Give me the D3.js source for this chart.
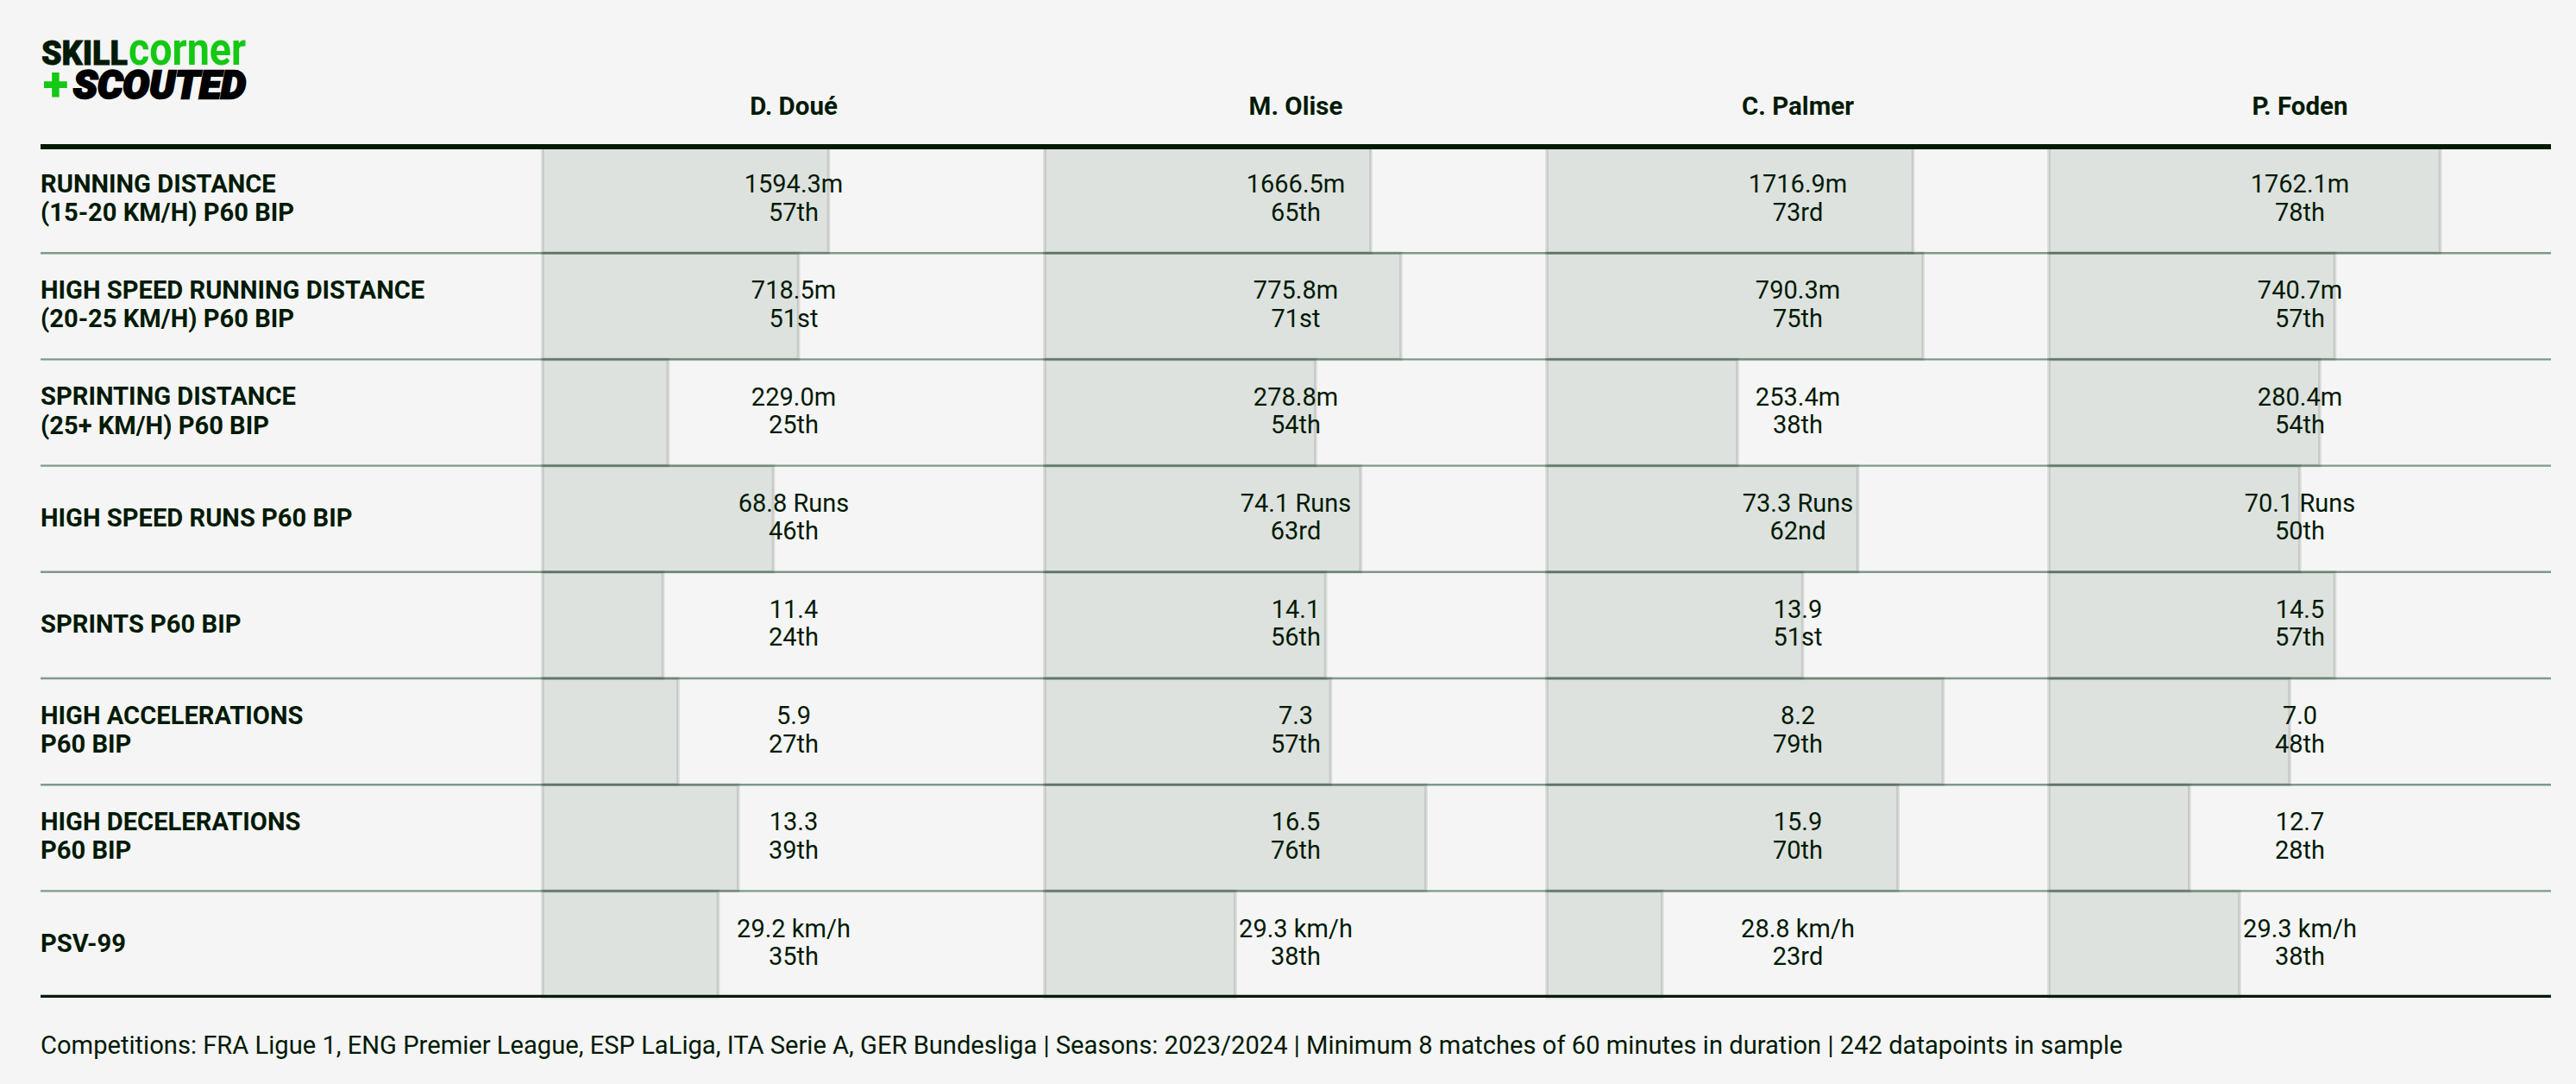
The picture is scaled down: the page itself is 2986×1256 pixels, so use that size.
<!doctype html>
<html>
  <head>
    <meta charset="utf-8">
    <title>SkillCorner physical comparison</title>
    <script src="https://cdnjs.cloudflare.com/ajax/libs/d3/7.8.5/d3.min.js"></script>
    <style>
      html, body { margin: 0; background: #f5f5f5; }
      svg { display: block; font-family: Roboto, sans-serif; }
      text { fill: #021a05; }
    </style>
  </head>

  <body>
    <div id="chart"></div>

    <script>
      // Data
      const players = ['D. Doué', 'M. Olise', 'C. Palmer', 'P. Foden'];
      const metricLabels = [
        ['RUNNING DISTANCE', '(15-20 KM/H) P60 BIP'],
        ['HIGH SPEED RUNNING DISTANCE', '(20-25 KM/H) P60 BIP'],
        ['SPRINTING DISTANCE', '(25+ KM/H) P60 BIP'],
        ['HIGH SPEED RUNS P60 BIP'],
        ['SPRINTS P60 BIP'],
        ['HIGH ACCELERATIONS', 'P60 BIP'],
        ['HIGH DECELERATIONS', 'P60 BIP'],
        ['PSV-99']
      ];
      const units = ['m', 'm', 'm', ' Runs', '', '', '', ' km/h'];

      const doueValues = ['1594.3', '718.5', '229.0', '68.8', '11.4', '5.9', '13.3', '29.2'];
      const oliseValues = ['1666.5', '775.8', '278.8', '74.1', '14.1', '7.3', '16.5', '29.3'];
      const palmerValues = ['1716.9', '790.3', '253.4', '73.3', '13.9', '8.2', '15.9', '28.8'];
      const fodenValues = ['1762.1', '740.7', '280.4', '70.1', '14.5', '7.0', '12.7', '29.3'];

      const douePct = [57, 51, 25, 46, 24, 27, 39, 35];
      const olisePct = [65, 71, 54, 63, 56, 57, 76, 38];
      const palmerPct = [73, 75, 38, 62, 51, 79, 70, 23];
      const fodenPct = [78, 57, 54, 50, 57, 48, 28, 38];

      const footnote = 'Competitions: FRA Ligue 1, ENG Premier League, ESP LaLiga, ITA Serie A, GER Bundesliga | Seasons: 2023/2024 | Minimum 8 matches of 60 minutes in duration | 242 datapoints in sample';

      const allValues = [doueValues, oliseValues, palmerValues, fodenValues];
      const allPct = [douePct, olisePct, palmerPct, fodenPct];

      const width = 2986, height = 1256;
      const marginLeft = 47, marginRight = 2957, tableLeft = 629, tableTop = 170, tableBottom = 1155.6;
      const dark = '#021a05';
      const bodySize = 29.15, valueSize = 29;

      // Ordinal suffix for the percentile line
      function ordinal(n) {
        const s = n % 100 >= 11 && n % 100 <= 13 ? 'th' : ({1: 'st', 2: 'nd', 3: 'rd'}[n % 10] || 'th');
        return n + s;
      }

      const x = d3.scaleBand().domain(players).range([tableLeft, marginRight]);
      const y = d3.scaleBand().domain(d3.range(metricLabels.length)).range([tableTop, tableBottom]);
      const barWidth = d3.scaleLinear().domain([0, 100]).range([0, x.bandwidth() - 0.5]);

      const svg = d3.select('#chart')
        .append('svg')
        .attr('width', width)
        .attr('height', height);

      // Row rules sit under the bars so the bars darken them
      svg.selectAll('line.rule')
        .data(d3.range(1, metricLabels.length))
        .join('line')
        .attr('class', 'rule')
        .attr('x1', marginLeft)
        .attr('x2', marginRight)
        .attr('y1', d => y(d))
        .attr('y2', d => y(d))
        .attr('stroke', '#7f9a87')
        .attr('stroke-width', 2.4);

      // Bars
      const cells = players.flatMap((p, pi) =>
        metricLabels.map((m, mi) => ({
          player: p,
          row: mi,
          pct: allPct[pi][mi],
          label: allValues[pi][mi] + units[mi]
        })));

      svg.selectAll('rect.bar')
        .data(cells)
        .join('rect')
        .attr('class', 'bar')
        .attr('x', d => x(d.player))
        .attr('y', d => y(d.row))
        .attr('width', d => barWidth(d.pct))
        .attr('height', y.bandwidth())
        .attr('fill', '#05370f')
        .attr('fill-opacity', 0.1)
        .attr('stroke', '#1c2a20')
        .attr('stroke-opacity', 0.13)
        .attr('stroke-width', 3.6);

      // Heavy top and bottom rules
      svg.append('line')
        .attr('x1', marginLeft).attr('x2', marginRight)
        .attr('y1', tableTop).attr('y2', tableTop)
        .attr('stroke', dark).attr('stroke-width', 6);
      svg.append('line')
        .attr('x1', marginLeft).attr('x2', marginRight)
        .attr('y1', 1154.4).attr('y2', 1154.4)
        .attr('stroke', dark).attr('stroke-width', 3.4);

      // Column headers
      svg.selectAll('text.player')
        .data(players)
        .join('text')
        .attr('class', 'player')
        .attr('x', d => x(d) + x.bandwidth() / 2)
        .attr('y', 133)
        .attr('text-anchor', 'middle')
        .attr('font-size', 29.5)
        .attr('font-weight', 700)
        .text(d => d);

      // Row labels
      svg.selectAll('text.metric')
        .data(metricLabels)
        .join('text')
        .attr('class', 'metric')
        .attr('font-size', bodySize)
        .attr('font-weight', 700)
        .each(function(d, i) {
          const mid = y(i) + y.bandwidth() / 2;
          const y0 = d.length === 1 ? mid + 9 : mid - 9;
          d3.select(this).selectAll('tspan')
            .data(d)
            .join('tspan')
            .attr('x', marginLeft)
            .attr('y', (t, k) => y0 + k * 33.5)
            .text(t => t);
        });

      // Value and percentile, centred on each column
      const cellText = svg.selectAll('g.cell')
        .data(cells)
        .join('g')
        .attr('class', 'cell')
        .attr('transform', d => `translate(${x(d.player) + x.bandwidth() / 2},${y(d.row) + y.bandwidth() / 2})`);

      cellText.append('text')
        .attr('y', -8.5)
        .attr('text-anchor', 'middle')
        .attr('font-size', valueSize)
        .text(d => d.label);
      cellText.append('text')
        .attr('y', 24)
        .attr('text-anchor', 'middle')
        .attr('font-size', valueSize)
        .text(d => ordinal(d.pct));

      // Footnote
      svg.append('text')
        .attr('x', marginLeft)
        .attr('y', 1221)
        .attr('font-size', bodySize)
        .text(footnote);

      // Logo
      const logo = svg.append('g').attr('font-weight', 900);
      logo.append('text')
        .attr('x', 48).attr('y', 75)
        .attr('font-size', 38)
        .attr('textLength', 100)
        .attr('lengthAdjust', 'spacingAndGlyphs')
        .attr('stroke', dark).attr('stroke-width', 0.8)
        .text('SKILL');
      logo.append('text')
        .attr('x', 149).attr('y', 75)
        .attr('font-size', 51)
        .attr('font-weight', 700)
        .attr('textLength', 136)
        .attr('lengthAdjust', 'spacingAndGlyphs')
        .style('fill', '#14c814')
        .text('corner');
      logo.append('text')
        .attr('x', 64.5).attr('y', 117)
        .attr('text-anchor', 'middle')
        .attr('font-size', 55)
        .style('fill', '#14c814')
        .text('+');
      logo.append('text')
        .attr('x', 85).attr('y', 114)
        .attr('font-size', 44)
        .attr('font-style', 'italic')
        .attr('textLength', 200)
        .attr('lengthAdjust', 'spacingAndGlyphs')
        .attr('stroke', '#000').attr('stroke-width', 2.4)
        .style('fill', '#000')
        .text('SCOUTED');
    </script>
  </body>
</html>
